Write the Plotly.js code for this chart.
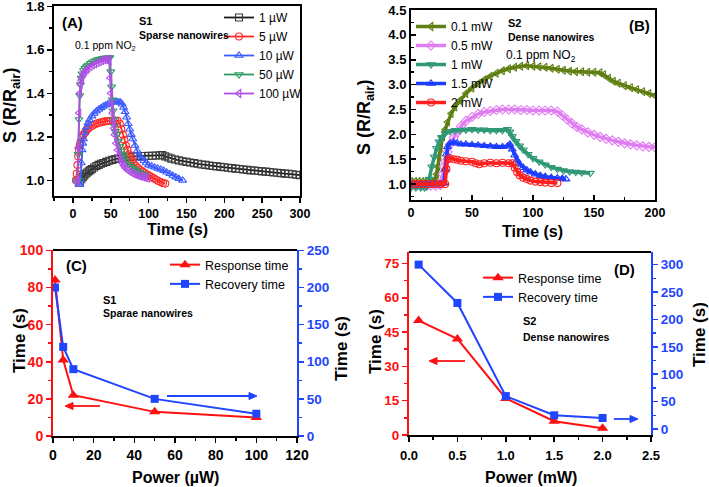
<!DOCTYPE html>
<html>
<head>
<meta charset="utf-8">
<script src="https://cdn.plot.ly/plotly-3.0.1.min.js"></script>
<style>html,body{margin:0;padding:0;background:#fff;}#chart{width:709px;height:487px;}</style>
</head>
<body>
<div id="chart"></div>
<script>
// ---------- Panel A : S1 sparse nanowires (time s, response) ----------
const labelsA = ['1 \u00b5W', '5 \u00b5W', '10 \u00b5W', '50 \u00b5W', '100 \u00b5W'];
const tA1 = [9,11,13,15,17,19,21,23,25,28,31,34,37,40,44,48,52,56,60,65,70,75,80,85,90,95,100,105,110,115,118,122,126,130,135,140,145,150,155,160,165,170,175,180,185,190,195,200,205,210,215,220,225,230,235,240,245,250,255,260,265,270,275,280,285,290,295,300];
const sA1 = [0.99,1.005,1.015,1.022,1.03,1.036,1.042,1.047,1.052,1.059,1.066,1.071,1.076,1.08,1.085,1.09,1.094,1.098,1.101,1.104,1.106,1.108,1.110,1.111,1.112,1.112,1.113,1.113,1.114,1.115,1.116,1.11,1.105,1.10,1.096,1.092,1.088,1.085,1.082,1.079,1.076,1.073,1.071,1.068,1.066,1.064,1.062,1.06,1.058,1.056,1.054,1.052,1.05,1.048,1.046,1.045,1.043,1.041,1.04,1.038,1.036,1.035,1.033,1.031,1.03,1.028,1.026,1.024];
const tA5 = [4,5,6,7,8,9,10,12,14,16,18,20,23,26,29,32,35,38,41,44,47,50,53,56,59,62,64,66,68,70,72,74,76,78,80,83,86,89,92,95,98,101,104,107,110,113,116,119,122];
const sA5 = [1.0,1.03,1.07,1.11,1.14,1.16,1.175,1.195,1.21,1.22,1.23,1.237,1.245,1.252,1.258,1.262,1.265,1.268,1.27,1.272,1.273,1.274,1.275,1.275,1.274,1.26,1.235,1.21,1.185,1.16,1.14,1.12,1.105,1.092,1.08,1.067,1.056,1.047,1.04,1.033,1.027,1.021,1.015,1.009,1.003,0.997,0.992,0.988,0.985];
const tA10 = [8,9,10,11,12,13,14,16,18,20,22,25,28,31,34,37,40,43,46,49,52,55,58,61,63,65,67,69,71,73,75,77,79,82,85,88,91,94,97,100,104,108,112,116,120,124,128,132,136,140,145];
const sA10 = [0.98,0.98,1.0,1.08,1.14,1.17,1.19,1.22,1.245,1.263,1.278,1.295,1.308,1.318,1.326,1.333,1.34,1.345,1.35,1.355,1.358,1.36,1.362,1.36,1.358,1.35,1.335,1.315,1.29,1.26,1.235,1.21,1.19,1.16,1.135,1.115,1.1,1.09,1.08,1.07,1.065,1.06,1.055,1.05,1.044,1.037,1.03,1.022,1.015,1.008,1.0];
const tA50 = [5,6,7,8,9,10,11,12,14,16,18,20,23,26,29,32,35,38,41,44,47,49,50,51,52,53,54,55,56,58,60,62,64,66,68,70,73,76,79,82,85,88,91,94];
const sA50 = [0.99,1.0,1.12,1.28,1.39,1.44,1.47,1.49,1.505,1.515,1.523,1.53,1.538,1.545,1.55,1.554,1.557,1.56,1.562,1.563,1.564,1.565,1.50,1.43,1.37,1.32,1.28,1.25,1.225,1.21,1.18,1.155,1.135,1.118,1.103,1.09,1.075,1.065,1.056,1.048,1.042,1.036,1.03,1.025];
const tA100 = [5,6,7,8,9,10,11,12,14,16,18,20,23,26,29,32,35,38,41,44,46,47,48,49,50,51,52,53,54,55,57,59,61,63,65,67,69,72,75,78,81,84,87,90,93,96,99];
const sA100 = [0.99,1.0,1.15,1.31,1.40,1.44,1.46,1.475,1.49,1.5,1.51,1.515,1.523,1.53,1.535,1.54,1.545,1.55,1.553,1.556,1.558,1.555,1.545,1.47,1.40,1.35,1.31,1.27,1.24,1.21,1.17,1.14,1.115,1.095,1.08,1.068,1.058,1.047,1.04,1.034,1.029,1.025,1.021,1.018,1.015,1.012,1.01];

// ---------- Panel B : S2 dense nanowires ----------
const labelsB = ['0.1 mW', '0.5 mW', '1 mW', '1.5 mW', '2 mW'];
const tB01 = [0,3,6,9,12,15,18,19,20,21,22,23,24,26,28,30,33,36,40,45,50,55,60,65,70,75,80,85,90,95,100,105,110,115,120,125,130,135,140,145,150,155,158,162,166,170,175,180,185,190,195,200];
const sB01 = [1.05,1.05,1.05,1.05,1.05,1.05,1.05,1.05,1.1,1.2,1.35,1.55,1.72,1.95,2.1,2.25,2.42,2.55,2.68,2.82,2.93,3.02,3.1,3.17,3.23,3.28,3.32,3.35,3.37,3.38,3.37,3.36,3.35,3.33,3.31,3.29,3.27,3.26,3.26,3.25,3.25,3.24,3.2,3.13,3.07,3.03,2.98,2.94,2.9,2.86,2.82,2.78];
const tB05 = [0,4,8,12,16,20,24,25,26,27,28,30,32,35,38,41,45,50,55,60,65,70,75,80,85,90,95,100,105,110,115,120,124,128,132,136,140,145,150,155,160,165,170,175,180,185,190,195,200];
const sB05 = [0.97,0.97,0.97,0.97,0.97,0.97,0.98,1.05,1.2,1.35,1.45,1.65,1.8,1.93,2.04,2.16,2.27,2.35,2.41,2.45,2.47,2.49,2.5,2.5,2.5,2.49,2.49,2.48,2.48,2.48,2.48,2.46,2.38,2.3,2.22,2.15,2.1,2.04,1.99,1.95,1.91,1.88,1.85,1.82,1.8,1.78,1.76,1.75,1.74];
const tB1 = [0,4,8,11,13,15,17,19,21,23,25,28,32,36,40,45,50,55,60,65,70,75,79,81,83,86,89,92,96,100,105,110,115,120,125,130,135,140,147];
const sB1 = [0.93,0.93,0.93,0.93,0.95,1.1,1.35,1.55,1.72,1.85,1.94,2.02,2.06,2.08,2.08,2.09,2.1,2.09,2.09,2.08,2.08,2.08,2.1,2.05,1.96,1.86,1.77,1.69,1.6,1.52,1.45,1.39,1.34,1.3,1.27,1.25,1.24,1.23,1.22];
const tB15 = [0,4,8,12,16,20,24,27,28,29,30,32,35,38,41,45,50,55,60,65,70,75,79,81,83,85,87,89,92,95,98,102,106,110,115,120,124,127];
const sB15 = [1.0,1.0,1.0,1.0,1.0,1.0,1.0,1.02,1.3,1.6,1.75,1.82,1.84,1.82,1.8,1.8,1.79,1.78,1.77,1.76,1.75,1.75,1.76,1.8,1.7,1.58,1.48,1.4,1.33,1.28,1.24,1.2,1.17,1.15,1.13,1.12,1.11,1.1];
const tB2 = [0,4,8,12,16,20,24,28,29,30,32,35,38,41,45,50,53,56,60,65,70,75,80,83,85,87,89,92,95,98,102,106,110,115,120];
const sB2 = [1.0,1.0,1.0,1.0,1.0,1.0,1.0,1.0,1.3,1.5,1.52,1.5,1.49,1.47,1.46,1.45,1.42,1.4,1.42,1.43,1.42,1.43,1.42,1.42,1.33,1.24,1.18,1.13,1.1,1.07,1.05,1.04,1.03,1.02,1.02];

// ---------- Panel C : S1 response / recovery vs power (uW) ----------
const powerC = [1, 5, 10, 50, 100];
const respC = [84, 41, 22, 13, 10];
const recC = [200, 120, 90, 50, 30];

// ---------- Panel D : S2 response / recovery vs power (mW) ----------
const powerD = [0.1, 0.5, 1.0, 1.5, 2.0];
const respD = [50, 42, 16, 6, 3];
const recD = [300, 230, 60, 25, 20];

const seriesNames = ['Response time', 'Recovery time'];

// ---------- styling ----------
const FONT = 'Arial, "Liberation Sans", Helvetica, sans-serif';
const W = 709, H = 487;
const px = v => v / W;
const py = v => 1 - v / H;
const RED = '#ff1010', BLUE = '#1f45ff';

const colA = ['#3a3a3a', '#ff2a2a', '#3d5cff', '#2e9a62', '#b14ee8'];
const lineA = ['#1a1a1a', '#ff2a2a', '#3d5cff', '#2e9a62', '#b14ee8'];
const symA = ['square-open', 'circle-open', 'triangle-up-open', 'triangle-down-open', 'triangle-left-open'];
const colB = ['#5f7f12', '#e07df2', '#2f9877', '#1c3cff', '#ff1f1f'];
const symB = ['triangle-left-open', 'diamond-open', 'triangle-down-open', 'triangle-up-open', 'circle-open'];

const dataA = [[tA1, sA1], [tA5, sA5], [tA10, sA10], [tA50, sA50], [tA100, sA100]];
const dataB = [[tB01, sB01], [tB05, sB05], [tB1, sB1], [tB15, sB15], [tB2, sB2]];

const traces = [];
dataA.forEach((d, i) => {
  traces.push({
    type: 'scatter', mode: 'lines+markers', x: d[0], y: d[1], name: labelsA[i],
    xaxis: 'x', yaxis: 'y', legend: 'legend',
    line: {color: lineA[i], width: 1.8},
    marker: {symbol: symA[i], size: 7, color: colA[i], line: {width: 1.1}}
  });
});
dataB.forEach((d, i) => {
  traces.push({
    type: 'scatter', mode: 'lines+markers', x: d[0], y: d[1], name: labelsB[i],
    xaxis: 'x2', yaxis: 'y2', legend: 'legend2',
    line: {color: colB[i], width: 3.5},
    marker: {symbol: symB[i], size: 7, color: colB[i], line: {width: 1.1}}
  });
});
traces.push({type: 'scatter', mode: 'lines+markers', x: powerC, y: respC, name: seriesNames[0],
  xaxis: 'x3', yaxis: 'y3', legend: 'legend3',
  line: {color: RED, width: 2}, marker: {symbol: 'triangle-up', size: 10, color: RED}});
traces.push({type: 'scatter', mode: 'lines+markers', x: powerC, y: recC, name: seriesNames[1],
  xaxis: 'x3', yaxis: 'y4', legend: 'legend3',
  line: {color: BLUE, width: 2}, marker: {symbol: 'square', size: 8, color: BLUE}});
traces.push({type: 'scatter', mode: 'lines+markers', x: powerD, y: respD, name: seriesNames[0],
  xaxis: 'x4', yaxis: 'y5', legend: 'legend4',
  line: {color: RED, width: 2}, marker: {symbol: 'triangle-up', size: 10, color: RED}});
traces.push({type: 'scatter', mode: 'lines+markers', x: powerD, y: recD, name: seriesNames[1],
  xaxis: 'x4', yaxis: 'y6', legend: 'legend4',
  line: {color: BLUE, width: 2}, marker: {symbol: 'square', size: 8, color: BLUE}});

function tf(size, color) { return {family: FONT, size: size, color: color || '#000', weight: 'bold'}; }
function ax(o) {
  return Object.assign({
    showgrid: false, zeroline: false, showline: true, linecolor: '#000', linewidth: 2,
    ticks: 'outside', ticklen: 5, tickwidth: 1.5, tickcolor: '#000',
    tickfont: tf(12.5), automargin: false, fixedrange: true, ticklabeloverflow: 'allow'
  }, o);
}

const layout = {
  width: W, height: H, autosize: false,
  margin: {l: 0, r: 0, t: 0, b: 0, pad: 0},
  paper_bgcolor: '#fff', plot_bgcolor: 'rgba(0,0,0,0)',
  font: {family: FONT, color: '#000'},
  showlegend: true,
  // Panel A
  xaxis: ax({domain: [px(54), px(300)], range: [-25, 300], dtick: 50, tick0: 0, anchor: 'y', mirror: true,
    minor: {dtick: 25, ticklen: 3, ticks: 'outside', tickcolor: '#000'}}),
  yaxis: ax({domain: [py(196), py(6)], range: [0.928, 1.8015], dtick: 0.2, tick0: 0, tickformat: '.1f', anchor: 'x', mirror: true,
    tickfont: tf(13), minor: {dtick: 0.1, ticklen: 3, ticks: 'outside', tickcolor: '#000'}}),
  // Panel B
  xaxis2: ax({domain: [px(411), px(655)], range: [0, 200], dtick: 50, anchor: 'y2', mirror: true, ticks: 'inside',
    minor: {dtick: 25, ticklen: 3, ticks: 'inside', tickcolor: '#000'}}),
  yaxis2: ax({domain: [py(200), py(10)], range: [0.68, 4.5015], dtick: 0.5, tick0: 0, tickformat: '.1f', anchor: 'x2', mirror: true,
    ticks: 'inside', tickfont: tf(13), minor: {dtick: 0.25, ticklen: 3, ticks: 'inside', tickcolor: '#000'}}),
  // Panel C
  xaxis3: ax({domain: [px(53), px(297)], range: [0, 120], dtick: 20, anchor: 'y3', tickfont: tf(14),
    minor: {dtick: 10, ticklen: 3, ticks: 'outside', tickcolor: '#000'}}),
  yaxis3: ax({domain: [py(436), py(250)], range: [0, 100.2], dtick: 20, anchor: 'x3', linecolor: RED, tickcolor: RED,
    tickfont: tf(14, RED), minor: {dtick: 10, ticklen: 3, ticks: 'outside', tickcolor: RED}}),
  yaxis4: ax({domain: [py(436), py(250)], range: [0, 250.5], dtick: 50, anchor: 'x3', overlaying: 'y3', side: 'right',
    linecolor: BLUE, tickcolor: BLUE, tickfont: tf(13.5, BLUE), minor: {dtick: 25, ticklen: 3, ticks: 'outside', tickcolor: BLUE}}),
  // Panel D
  xaxis4: ax({domain: [px(409), px(651)], range: [0, 2.5], dtick: 0.5, tick0: 0, tickformat: '.1f', anchor: 'y5', tickfont: tf(13),
    ticklabelstandoff: 2, minor: {dtick: 0.25, ticklen: 3, ticks: 'outside', tickcolor: '#000'}}),
  yaxis5: ax({domain: [py(435), py(252)], range: [0, 80], tickvals: [0, 15, 30, 45, 60, 75], anchor: 'x4', linecolor: RED, tickcolor: RED,
    tickfont: tf(13.5, RED), minor: {tickvals: [7.5, 22.5, 37.5, 52.5, 67.5], ticklen: 3, ticks: 'outside', tickcolor: RED}}),
  yaxis6: ax({domain: [py(435), py(252)], range: [-11, 323], dtick: 50, tick0: 0, anchor: 'x4', overlaying: 'y5', side: 'right',
    linecolor: BLUE, tickcolor: BLUE, tickfont: tf(13.5, BLUE), minor: {dtick: 25, ticklen: 3, ticks: 'outside', tickcolor: BLUE}}),
  legend: {x: px(219), y: py(3), xanchor: 'left', yanchor: 'top', bgcolor: 'rgba(0,0,0,0)', font: {family: FONT, size: 12, color: '#000'}, tracegroupgap: 0, itemwidth: 30},
  legend2: {x: px(411), y: py(12), xanchor: 'left', yanchor: 'top', bgcolor: 'rgba(0,0,0,0)', font: {family: FONT, size: 12, color: '#000'}, tracegroupgap: 0, itemwidth: 30},
  legend3: {x: px(165), y: py(250), xanchor: 'left', yanchor: 'top', bgcolor: 'rgba(0,0,0,0)', font: {family: FONT, size: 12.5, color: '#000'}, tracegroupgap: 0, itemwidth: 30},
  legend4: {x: px(478), y: py(263), xanchor: 'left', yanchor: 'top', bgcolor: 'rgba(0,0,0,0)', font: {family: FONT, size: 12.5, color: '#000'}, tracegroupgap: 0, itemwidth: 30},
  annotations: [],
  shapes: []
};

function txt(text, x, y, size, opts) {
  opts = opts || {};
  layout.annotations.push(Object.assign({
    text: text, x: px(x), y: py(y), xref: 'paper', yref: 'paper', showarrow: false,
    xanchor: 'left', yanchor: 'middle',
    font: {family: FONT, size: size, color: opts.color || '#000', weight: opts.bold === false ? 'normal' : 'bold'}
  }, opts.extra || {}));
}
// horizontal arrow: head at (xh, yh), tail at xt (pixels)
function arrow(xh, yh, xt, color) {
  const dir = xt > xh ? 1 : -1;
  const base = xh + dir * 8;
  layout.shapes.push({type: 'line', xref: 'paper', yref: 'paper', x0: px(base), x1: px(xt), y0: py(yh), y1: py(yh),
    line: {color: color, width: 1.8}});
  layout.shapes.push({type: 'path', xref: 'paper', yref: 'paper',
    path: 'M' + px(xh) + ',' + py(yh) + ' L' + px(base) + ',' + py(yh - 3.5) + ' L' + px(base) + ',' + py(yh + 3.5) + ' Z',
    fillcolor: color, line: {color: color, width: 1}});
}
function topLine(x0, x1, y) {
  layout.shapes.push({type: 'line', xref: 'paper', yref: 'paper', x0: px(x0), x1: px(x1), y0: py(y), y1: py(y),
    line: {color: '#000', width: 2}});
}

// panel texts
txt('(A)', 60, 23, 15);
txt('S1', 137, 21, 11);
txt('Sparse nanowires', 137, 35, 10.5);
txt('0.1 ppm NO<sub>2</sub>', 73, 46, 10.5, {bold: false});
txt('(B)', 627, 25, 15);
txt('S2', 506, 23, 11);
txt('Dense nanowires', 506, 37, 10.5);
txt('0.1 ppm NO<sub>2</sub>', 504, 56, 12, {bold: false});
txt('(C)', 64, 265, 15);
txt('S1', 101, 300, 11);
txt('Sparae nanowires', 101, 313, 10.5);
txt('(D)', 612, 269, 15);
txt('S2', 521, 321, 11);
txt('Dense nanowires', 521, 337, 10.5);

// axis titles
const mid = {xanchor: 'center', yanchor: 'middle'};
txt('S (R/R<sub>air</sub>)', 11, 106, 18, {extra: Object.assign({textangle: -90}, mid)});
txt('Time (s)', 177, 229, 16, {extra: mid});
txt('S (R/R<sub>air</sub>)', 365, 118, 18, {extra: Object.assign({textangle: -90}, mid)});
txt('Time (s)', 532, 231, 16, {extra: mid});
txt('Power (\u00b5W)', 175, 477, 16, {extra: mid});
txt('Time (s)', 19, 341, 17, {extra: Object.assign({textangle: -90}, mid)});
txt('Time (s)', 341, 349, 17, {extra: Object.assign({textangle: -90}, mid)});
txt('Power (mW)', 531, 477, 16, {extra: mid});
txt('Time (s)', 375, 341, 17, {extra: Object.assign({textangle: -90}, mid)});
txt('Time (s)', 699, 335, 17, {extra: Object.assign({textangle: -90}, mid)});

// frame tops of panels C and D
topLine(53, 297, 250);
topLine(409, 651, 252);

// arrows pointing to the axis each series belongs to
arrow(65, 406, 100, RED);
arrow(257, 396, 167, BLUE);
arrow(429, 361, 465, RED);
arrow(638, 419, 614, BLUE);

Plotly.newPlot('chart', traces, layout, {displayModeBar: false, staticPlot: true});
</script>
</body>
</html>
